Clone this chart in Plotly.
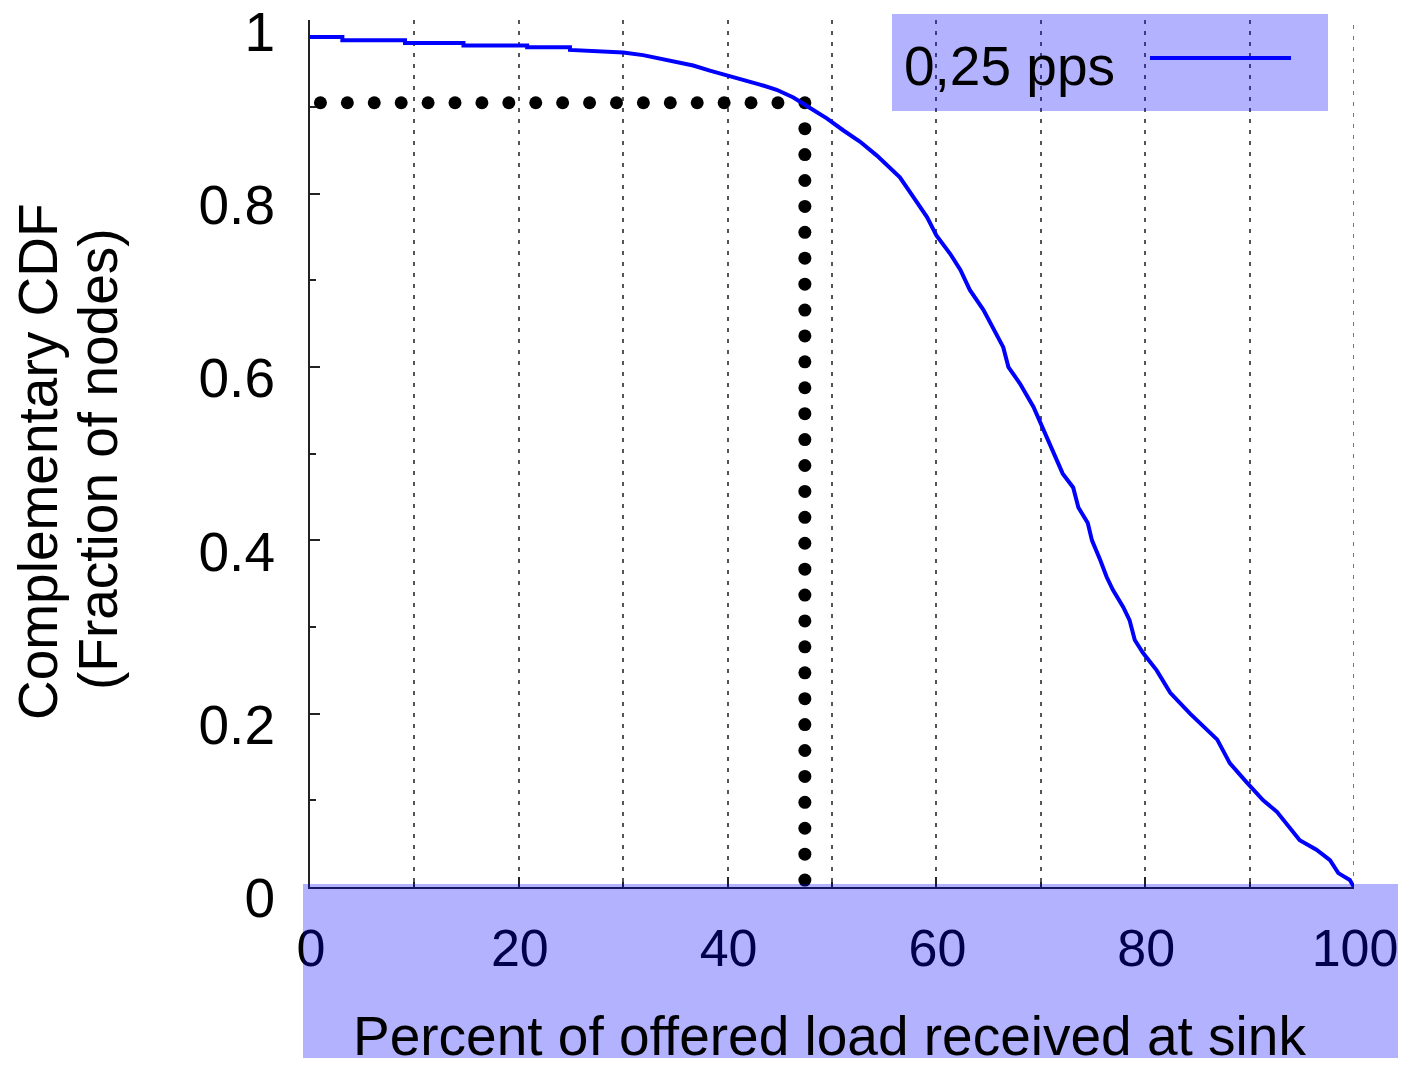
import numpy as np
import plotly.graph_objects as go

# ---------------- data ----------------
load_pct = [0, 3.1, 3.1, 9.1, 9.1, 14.7, 14.7, 20.8, 20.8, 24.9, 24.9, 27.6, 30.0, 31.9, 33.2,
            35.2, 36.7, 38.3, 39.9, 41.5, 43.1, 44.7, 46.3, 47.9, 49.5, 51.1, 52.7, 54.3, 55.8,
            56.5, 57.8, 59.1, 60.0, 61.3, 62.3, 63.2, 64.5, 65.4, 66.4, 66.9, 68.0, 69.3, 70.2,
            71.2, 72.1, 73.1, 73.6, 74.5, 74.9, 75.7, 76.3, 76.9, 77.9, 78.5, 79.0, 79.8, 81.1,
            82.4, 84.3, 86.9, 88.1, 89.7, 91.3, 92.6, 94.8, 96.4, 97.7, 98.5, 99.6, 100]
ccdf = [0.981, 0.981, 0.977, 0.977, 0.974, 0.974, 0.971, 0.971, 0.969, 0.969, 0.966, 0.964,
        0.963, 0.960, 0.957, 0.952, 0.948, 0.942, 0.937, 0.931, 0.926, 0.920, 0.911, 0.899,
        0.887, 0.873, 0.860, 0.844, 0.827, 0.819, 0.796, 0.773, 0.752, 0.731, 0.712, 0.689,
        0.666, 0.646, 0.623, 0.600, 0.581, 0.554, 0.530, 0.503, 0.477, 0.461, 0.438, 0.420,
        0.400, 0.377, 0.358, 0.343, 0.323, 0.308, 0.285, 0.270, 0.250, 0.224, 0.200, 0.170,
        0.143, 0.121, 0.100, 0.087, 0.054, 0.043, 0.031, 0.016, 0.008, 0.0]
series_name = "0,25 pps"

# marked point (dotted guide lines)
mark_x = 47.4
mark_y = 0.905
guide_x_start = 1.0
guide_y_end = 0.008

x_ticks = [0, 20, 40, 60, 80, 100]
y_ticks = [0, 0.2, 0.4, 0.6, 0.8, 1]
x_max = 100
x_title = "Percent of offered load received at sink"
y_title_lines = ["Complementary CDF", "(Fraction of nodes)"]

# ---------------- layout helpers ----------------
PAGE_W, PAGE_H = 1406, 1066
OFF = 8                      # default body margin of the html page
W, H = PAGE_W - 2 * OFF, PAGE_H - 2 * OFF
L, R, T, B = 310, 1354, 20, 887   # plot area in page pixels


def px(xp):
    return (xp - L) / (R - L)


def py(yp):
    return (B - yp) / (B - T)


FONT = "Liberation Sans, Arial, sans-serif"
FS = 55
LAV = "rgba(0,0,255,0.3)"
GRID = "#555"
GRID_DASH = "4px,7px"

fig = go.Figure()

# guide dots
hx = np.linspace(guide_x_start, mark_x, 19)
vy = np.linspace(mark_y, guide_y_end, 31)[1:]
gx = list(hx) + [mark_x] * len(vy)
gy = [mark_y] * len(hx) + list(vy)
fig.add_trace(go.Scatter(x=gx, y=gy, mode="markers",
                         marker=dict(size=13, color="black", line=dict(width=0)),
                         showlegend=False, hoverinfo="skip"))

fig.add_trace(go.Scatter(x=load_pct, y=ccdf, mode="lines", name=series_name,
                         line=dict(color="#0000ff", width=4), showlegend=False))

shapes = [
    # grid line at the right end of the x range (plotly skips the end grid line)
    dict(type="line", xref="x", yref="paper", layer="below",
         x0=x_max, x1=x_max, y0=0, y1=1,
         line=dict(color=GRID, width=1.6, dash=GRID_DASH)),
    # opaque key area (hides grid behind key text)
    dict(type="rect", xref="paper", yref="paper", layer="between",
         x0=px(895), x1=px(1325), y0=py(89), y1=py(27),
         fillcolor="white", line=dict(width=0)),
    # legend sample line
    dict(type="line", xref="paper", yref="paper", layer="above",
         x0=px(1150), x1=px(1291), y0=py(58), y1=py(58),
         line=dict(color="#0000ff", width=4)),
    # lavender highlight boxes
    dict(type="rect", xref="paper", yref="paper", layer="above",
         x0=px(892), x1=px(1328), y0=py(111), y1=py(14),
         fillcolor=LAV, line=dict(width=0)),
    dict(type="rect", xref="paper", yref="paper", layer="above",
         x0=px(303), x1=px(1420), y0=py(1080), y1=py(884),
         fillcolor=LAV, line=dict(width=0)),
]

annotations = [
    dict(text=series_name, xref="paper", yref="paper", x=px(902), y=py(66),
         xanchor="left", yanchor="middle", showarrow=False,
         font=dict(family=FONT, size=FS, color="black")),
    dict(text=x_title, xref="paper", yref="paper", x=px(829), y=py(1036),
         xanchor="center", yanchor="middle", showarrow=False,
         font=dict(family=FONT, size=FS, color="black")),
    dict(text=y_title_lines[0], xref="paper", yref="paper", x=px(38), y=py(462),
         xanchor="center", yanchor="middle", showarrow=False, textangle=-90,
         font=dict(family=FONT, size=FS, color="black")),
    dict(text=y_title_lines[1], xref="paper", yref="paper", x=px(98), y=py(459),
         xanchor="center", yanchor="middle", showarrow=False, textangle=-90,
         font=dict(family=FONT, size=FS, color="black")),
]

fig.update_layout(
    width=W, height=H,
    margin=dict(l=L - OFF, r=(OFF + W) - R, t=T - OFF, b=(OFF + H) - B, pad=0,
                autoexpand=False),
    paper_bgcolor="white", plot_bgcolor="white",
    font=dict(family=FONT, size=FS, color="black"),
    shapes=shapes, annotations=annotations,
    showlegend=False,
)

fig.update_xaxes(
    range=[0, x_max], tickvals=x_ticks, ticktext=[str(v) for v in x_ticks],
    automargin=False,
    showline=True, linecolor="#222", linewidth=2,
    ticks="inside", ticklen=10, tickwidth=2, tickcolor="#222",
    showgrid=True, gridcolor=GRID, gridwidth=1.6, griddash=GRID_DASH,
    zeroline=False, ticklabelstandoff=15, ticklabelshift=1,
    ticklabeloverflow="allow",
    tickfont=dict(family=FONT, size=52, color="black"),
    minor=dict(dtick=10, tick0=0, ticks="inside", ticklen=5, tickwidth=2, tickcolor="#222",
               showgrid=True, gridcolor=GRID, gridwidth=1.6, griddash=GRID_DASH),
)

fig.update_yaxes(
    range=[0, 1.0005], tickvals=y_ticks, ticktext=[("%g" % v) for v in y_ticks],
    automargin=False,
    showline=True, linecolor="#222", linewidth=2,
    ticks="inside", ticklen=10, tickwidth=2, tickcolor="#222",
    showgrid=False, zeroline=False, ticklabelstandoff=22, ticklabelshift=11,
    ticklabeloverflow="allow",
    tickfont=dict(family=FONT, size=FS, color="black"),
    minor=dict(dtick=0.1, tick0=0, ticks="inside", ticklen=6, tickwidth=2, tickcolor="#222",
               showgrid=False),
)

fig.write_html("out.html")
